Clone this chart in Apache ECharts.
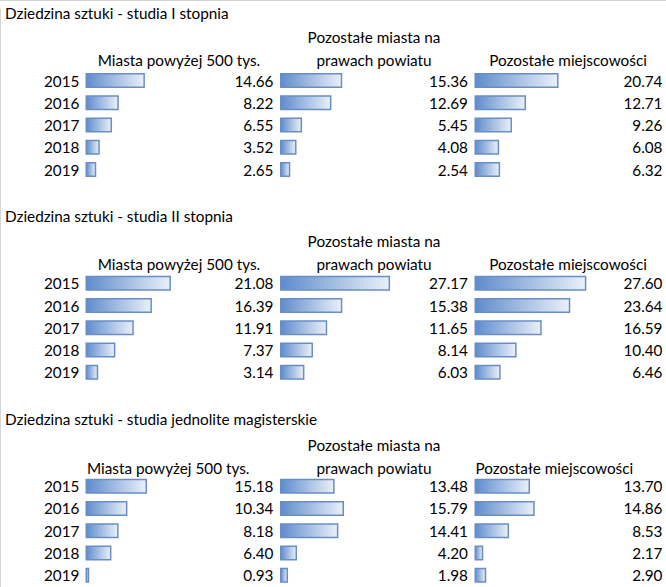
<!DOCTYPE html>
<html><head><meta charset="utf-8">
<script src="https://cdn.jsdelivr.net/npm/echarts@6/dist/echarts.min.js"></script>
<style>html,body{margin:0;padding:0;background:#fff}#c{width:666px;height:587px}</style>
</head><body><div id="c"></div>
<script>
const years = ['2015', '2016', '2017', '2018', '2019'];
const panelTitles = ['Dziedzina sztuki - studia I stopnia', 'Dziedzina sztuki - studia II stopnia', 'Dziedzina sztuki - studia jednolite magisterskie'];
const columnHeaders = ['Miasta powyżej 500 tys.', 'Pozostałe miasta na\nprawach powiatu', 'Pozostałe miejscowości'];
const p1Big = [14.66, 8.22, 6.55, 3.52, 2.65];
const p1Pow = [15.36, 12.69, 5.45, 4.08, 2.54];
const p1Other = [20.74, 12.71, 9.26, 6.08, 6.32];
const p2Big = [21.08, 16.39, 11.91, 7.37, 3.14];
const p2Pow = [27.17, 15.38, 11.65, 8.14, 6.03];
const p2Other = [27.60, 23.64, 16.59, 10.40, 6.46];
const p3Big = [15.18, 10.34, 8.18, 6.40, 0.93];
const p3Pow = [13.48, 15.79, 14.41, 4.20, 1.98];
const p3Other = [13.70, 14.86, 8.53, 2.17, 2.90];

const panels = [[p1Big, p1Pow, p1Other], [p2Big, p2Pow, p2Other], [p3Big, p3Pow, p3Other]];

const FONT = 'Lato';
const FS = 15.3;
const colLeft = [85.5, 280, 474.5];
const colW = 188;
const panelTop = 69.4, panelStep = 202.8, gridH = 111.25;
const xMax = 46.4;
// header layout: [x, align] per panel/col
const headerPos = [
  [[179, 'center'], [374, 'center'], [568, 'center']],
  [[179, 'center'], [374, 'center'], [568, 'center']],
  [[87, 'left'], [374, 'center'], [475.5, 'left']]
];

const grid = [], xAxis = [], yAxis = [], series = [], graphic = [];
panels.forEach((cols, p) => {
  const top = panelTop + panelStep * p;
  graphic.push({type: 'text', x: 5, y: 13 + panelStep * p,
    style: {text: panelTitles[p], font: FS + 'px ' + FONT, fill: '#000', textAlign: 'left', textVerticalAlign: 'middle'}});
  cols.forEach((vals, c) => {
    const i = grid.length;
    grid.push({left: colLeft[c], top: top, width: colW, height: gridH});
    xAxis.push({type: 'value', gridIndex: i, min: 0, max: xMax, show: false});
    yAxis.push({type: 'category', gridIndex: i, data: years, inverse: true, position: 'left',
      axisLine: {show: false}, axisTick: {show: false}, splitLine: {show: false},
      axisLabel: {show: c === 0, margin: 6, color: '#000', fontFamily: FONT, fontSize: FS}});
    yAxis.push({type: 'category', gridIndex: i, data: vals.map(v => v.toFixed(2)), inverse: true, position: 'right',
      axisLine: {show: false}, axisTick: {show: false}, splitLine: {show: false},
      axisLabel: {show: true, inside: true, margin: 0, color: '#000', fontFamily: FONT, fontSize: FS}});
    series.push({type: 'bar', xAxisIndex: i, yAxisIndex: yAxis.length - 2, data: vals, barWidth: 15,
      silent: true, animation: false,
      itemStyle: {
        color: new echarts.graphic.LinearGradient(0, 0, 1, 0, [{offset: 0, color: '#5f8ccc'}, {offset: 1, color: '#eaf0f9'}]),
        borderColor: '#6a8ec4', borderWidth: 1.5
      }});
    const hp = headerPos[p][c];
    const lines = columnHeaders[c].split('\n');
    lines.forEach((ln, k) => {
      const y = (lines.length === 2 ? (k === 0 ? 37 : 60) : 60) + panelStep * p + (p === 2 ? 2.5 : (p === 1 ? 0.8 : 0));
      graphic.push({type: 'text', x: hp[0], y: y,
        style: {text: ln, font: FS + 'px ' + FONT, fill: '#000', textAlign: hp[1], textVerticalAlign: 'middle'}});
    });
  });
});
graphic.push({type: 'line', shape: {x1: 0, y1: 0.5, x2: 666, y2: 0.5}, style: {stroke: '#d4d4d4', lineWidth: 1}});
graphic.push({type: 'line', shape: {x1: 0.5, y1: 9, x2: 0.5, y2: 587}, style: {stroke: '#d4d4d4', lineWidth: 1}});

const chart = echarts.init(document.getElementById('c'), null, {renderer: 'svg'});
chart.setOption({animation: false, grid, xAxis, yAxis, series, graphic});
</script></body></html>
